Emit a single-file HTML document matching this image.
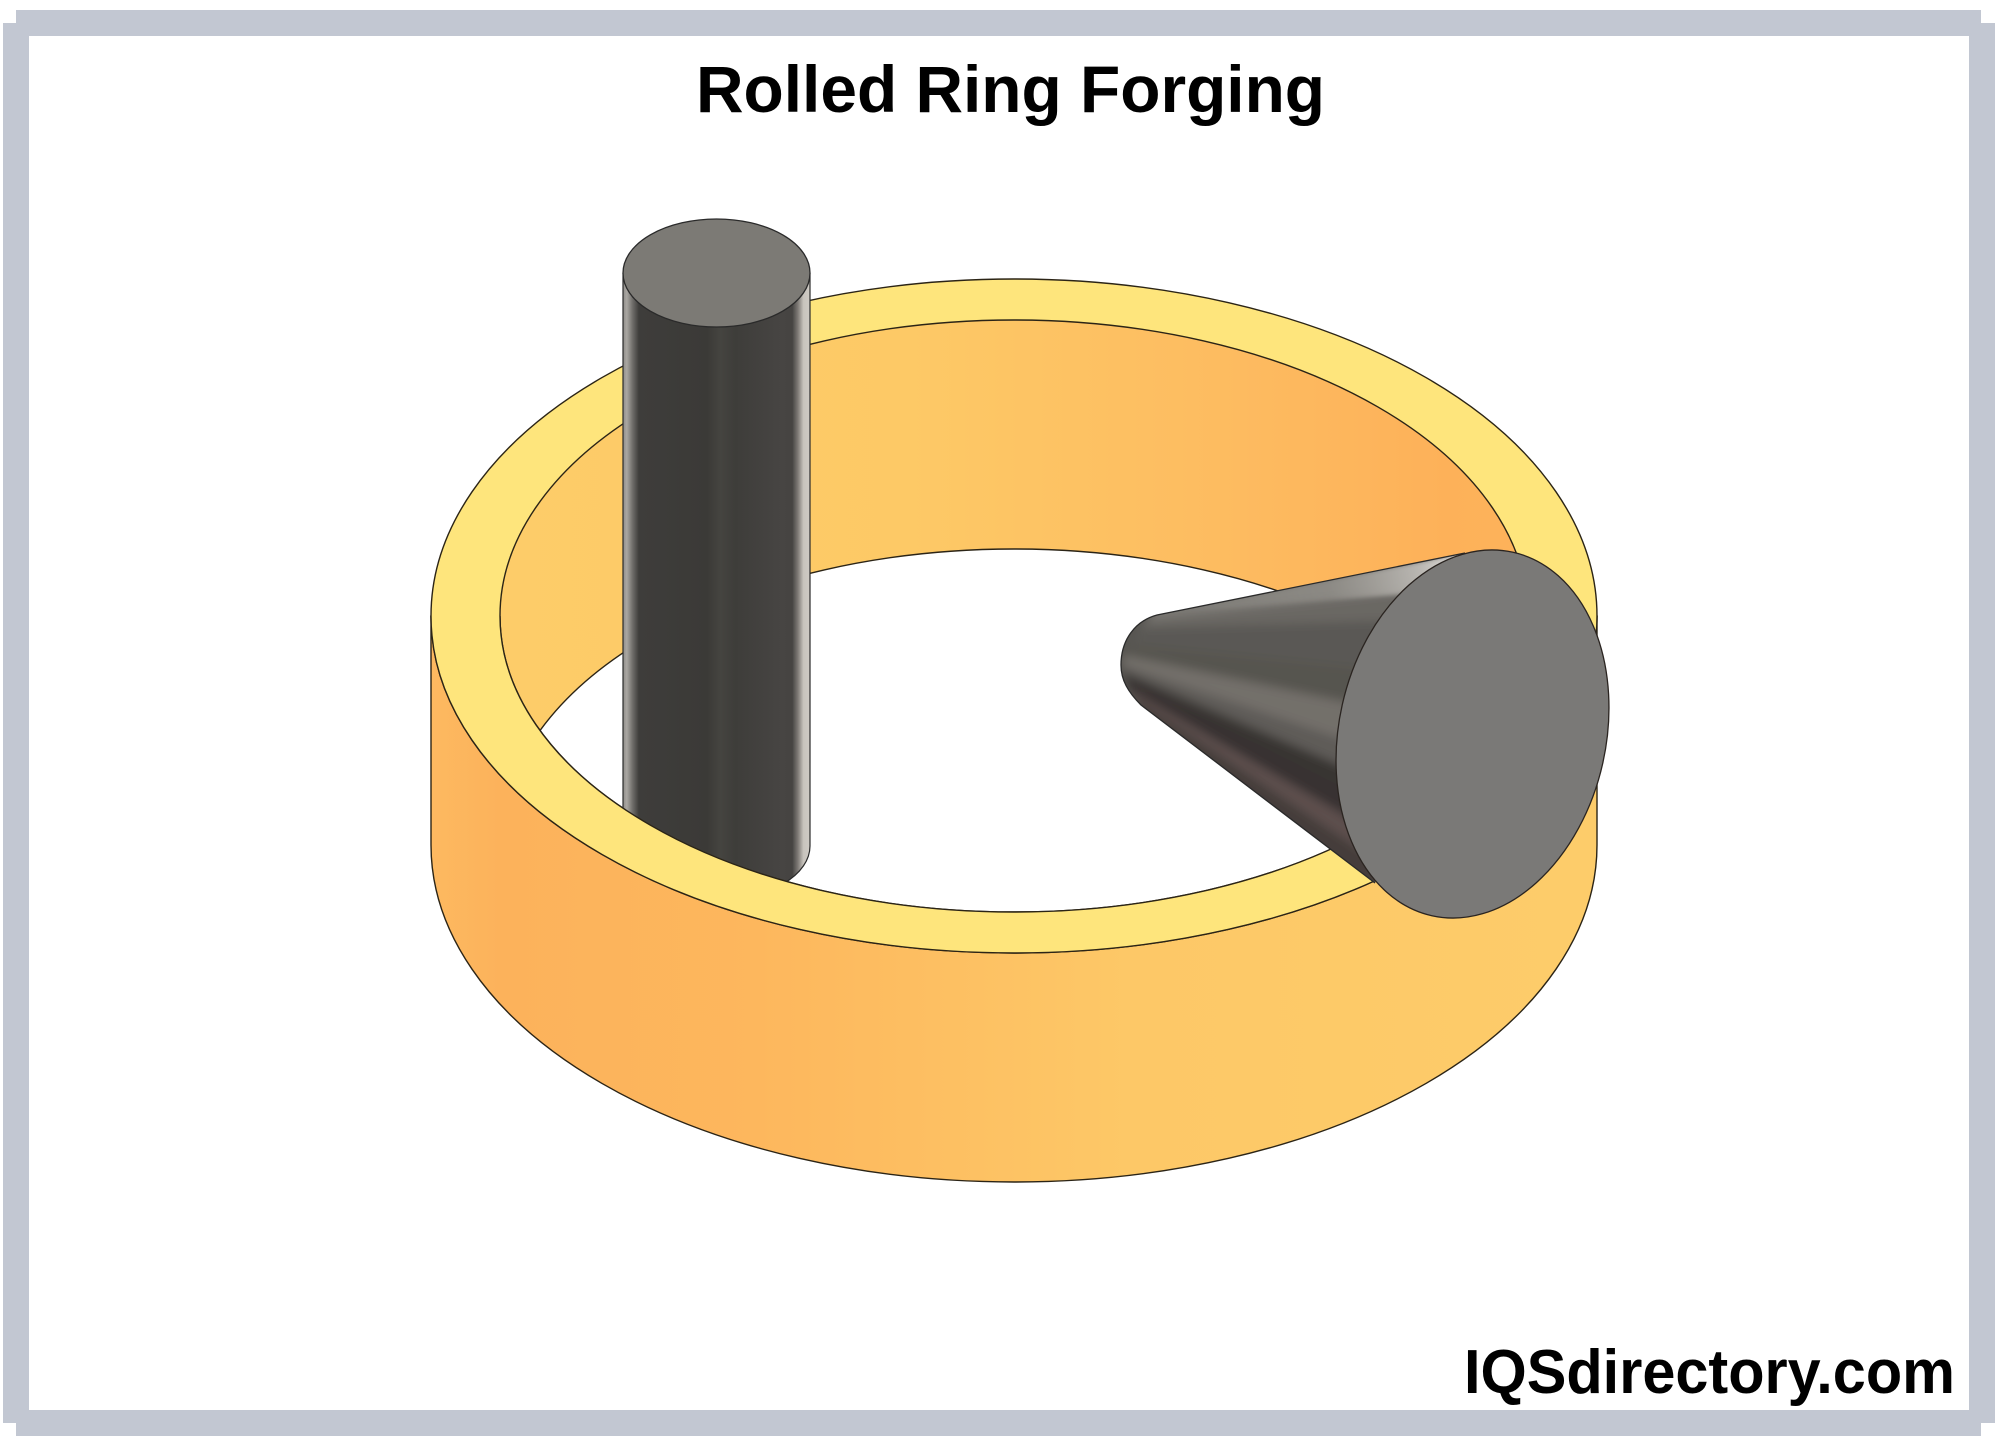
<!DOCTYPE html>
<html>
<head>
<meta charset="utf-8">
<style>
html,body{margin:0;padding:0;background:#fff;width:1999px;height:1436px;overflow:hidden}
svg{display:block}
</style>
</head>
<body>
<svg width="1999" height="1436" viewBox="0 0 1999 1436" xmlns="http://www.w3.org/2000/svg">
<defs>
<linearGradient id="outerSide" gradientUnits="userSpaceOnUse" x1="431" y1="0" x2="1597" y2="0">
<stop offset="0" stop-color="#fdb960"/><stop offset="0.06" stop-color="#fcb25b"/><stop offset="0.28" stop-color="#fdb75d"/><stop offset="0.6" stop-color="#fdc867"/><stop offset="1" stop-color="#fdcc6a"/>
</linearGradient>
<linearGradient id="innerSide" gradientUnits="userSpaceOnUse" x1="500" y1="0" x2="1528" y2="0">
<stop offset="0" stop-color="#fdcc69"/><stop offset="0.4" stop-color="#fdc966"/><stop offset="0.72" stop-color="#fdbb60"/><stop offset="0.92" stop-color="#fdb159"/><stop offset="1" stop-color="#fdb35a"/>
</linearGradient>
<linearGradient id="cyl" gradientUnits="userSpaceOnUse" x1="623" y1="0" x2="810" y2="0">
<stop offset="0" stop-color="#8f8d89"/><stop offset="0.02" stop-color="#aaa7a2"/><stop offset="0.05" stop-color="#716f6c"/><stop offset="0.085" stop-color="#3e3d3b"/><stop offset="0.45" stop-color="#3b3a37"/><stop offset="0.52" stop-color="#454440"/><stop offset="0.6" stop-color="#3e3d3a"/><stop offset="0.85" stop-color="#474543"/><stop offset="0.905" stop-color="#464442"/><stop offset="0.935" stop-color="#7d7975"/><stop offset="0.965" stop-color="#c8c4bd"/><stop offset="1" stop-color="#cfcbc5"/>
</linearGradient>
<clipPath id="innerClip"><ellipse cx="1014" cy="616" rx="514" ry="296"/></clipPath>
<clipPath id="cylClip"><rect x="600" y="200" width="230" height="416"/><ellipse cx="1014" cy="616" rx="514" ry="296"/></clipPath>
<clipPath id="coneClip"><path d="M1157,615 L1465,553 L1375,883 L1141,705 C1128,692 1121,680 1121,665 C1121,640 1135,621 1157,615 Z"/></clipPath>
<filter id="soft" x="-10%" y="-10%" width="120%" height="120%"><feGaussianBlur stdDeviation="5"/></filter>
<filter id="softer" x="-10%" y="-30%" width="120%" height="160%"><feGaussianBlur stdDeviation="2"/></filter>
<linearGradient id="topGlow" gradientUnits="userSpaceOnUse" x1="1157" y1="615" x2="1465" y2="553">
<stop offset="0" stop-color="#c9c6c0" stop-opacity="0"/><stop offset="0.55" stop-color="#b5b2ac" stop-opacity="0.3"/><stop offset="0.85" stop-color="#d0cdc8" stop-opacity="0.75"/><stop offset="1" stop-color="#eeebe7" stop-opacity="1"/>
</linearGradient>
</defs>

<rect width="1999" height="1436" fill="#ffffff"/>
<!-- frame -->
<g fill="#c2c7d2">
<rect x="16" y="10" width="1965" height="26"/>
<rect x="3" y="23" width="26" height="1400"/>
<rect x="1969" y="23" width="26" height="1400"/>
<rect x="16" y="1410" width="1965" height="26"/>
</g>

<text x="696" y="112" font-family="'Liberation Sans',sans-serif" font-weight="700" font-size="66" textLength="629" lengthAdjust="spacingAndGlyphs" fill="#000">Rolled Ring Forging</text>

<!-- ring outer wall -->
<path d="M431,616 L431,845 A583,337 0 0 0 1597,845 L1597,616 Z" fill="url(#outerSide)" stroke="#2b2416" stroke-width="1.4"/>
<!-- ring top face -->
<ellipse cx="1014" cy="616" rx="583" ry="337" fill="#fee57c" stroke="#2b2416" stroke-width="1.4"/>
<!-- inner wall and hole -->
<ellipse cx="1014" cy="616" rx="514" ry="296" fill="url(#innerSide)"/>
<g clip-path="url(#innerClip)">
<ellipse cx="1014" cy="845" rx="514" ry="296" fill="#ffffff" stroke="#2b2416" stroke-width="1.4"/>
</g>
<ellipse cx="1014" cy="616" rx="514" ry="296" fill="none" stroke="#2b2416" stroke-width="1.4"/>

<!-- vertical cylinder -->
<g clip-path="url(#cylClip)">
<path d="M623,273 L623,846 A93.5,54 0 0 0 810,846 L810,273 Z" fill="url(#cyl)"/>
<path d="M623,273 L623,846 A93.5,54 0 0 0 810,846 L810,273" fill="none" stroke="#2a2a2a" stroke-width="1.2"/>
</g>
<ellipse cx="716.5" cy="273" rx="93.5" ry="54" fill="#7c7a75" stroke="#2a2a2a" stroke-width="1.3"/>

<!-- front part of ring top face -->
<path d="M431,616 A583,337 0 0 0 1597,616 L1528,616 A514,296 0 0 1 500,616 Z" fill="#fee57c"/>
<path d="M431,616 A583,337 0 0 0 1597,616" fill="none" stroke="#2b2416" stroke-width="1.4"/>
<path d="M500,616 A514,296 0 0 0 1528,616" fill="none" stroke="#2b2416" stroke-width="1.4"/>

<!-- cone -->
<g clip-path="url(#coneClip)">
<rect x="1100" y="530" width="400" height="380" fill="#565450"/>
<g filter="url(#soft)">
<polygon points="1157,600 1465,540 1456,586 1147,620" fill="#7a7873"/>
<polygon points="1147,620 1456,586 1447,619 1138,628" fill="#6a6864"/>
<polygon points="1138,628 1447,619 1432,675 1128,645" fill="#5a5854"/>
<polygon points="1128,645 1432,675 1420,718 1123,655" fill="#565450"/>
<polygon points="1123,655 1420,718 1408,761 1122,665" fill="#736f6b"/>
<polygon points="1122,665 1408,761 1400,791 1123,672" fill="#5f5b58"/>
<polygon points="1123,672 1400,791 1394,814 1125,678" fill="#383432"/>
<polygon points="1125,678 1394,814 1387,840 1130,690" fill="#383331"/>
<polygon points="1130,690 1387,840 1380,863 1135,698" fill="#5d4f4d"/>
<polygon points="1135,698 1380,863 1375,900 1141,720" fill="#453d3b"/>
</g>
<polygon points="1157,615 1465,553 1452,590" fill="url(#topGlow)" filter="url(#softer)"/>
</g>
<path d="M1465,553 L1157,615 C1135,621 1121,640 1121,665 C1121,680 1128,692 1141,705 L1375,883" fill="none" stroke="#2a2a2a" stroke-width="1.3"/>
<ellipse cx="1472.5" cy="734" rx="186.2" ry="133.5" transform="rotate(-77.4 1472.5 734)" fill="#7a7977" stroke="#2a2420" stroke-width="1.3"/>

<text x="1464" y="1393" font-family="'Liberation Sans',sans-serif" font-weight="700" font-size="62" textLength="491" lengthAdjust="spacingAndGlyphs" fill="#000">IQSdirectory.com</text>
</svg>
</body>
</html>
